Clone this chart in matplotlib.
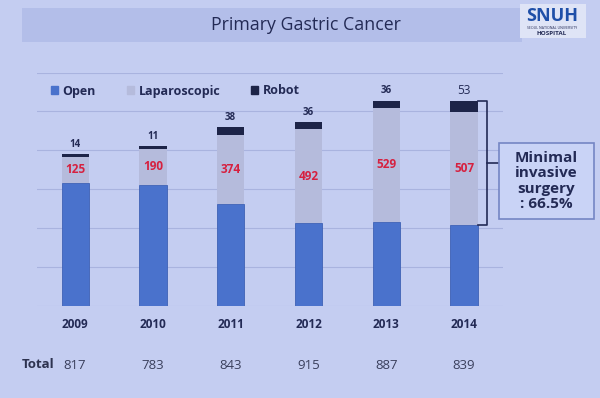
import numpy as np
import matplotlib.pyplot as plt
from matplotlib.patches import Rectangle, Patch

years = ['2009', '2010', '2011', '2012', '2013', '2014']
# segment heights as drawn on the slide (cases)
open_cases = [634, 624, 526, 427, 433, 416]
lap_cases = [131, 185, 353, 482, 585, 583]
robot_cases = [15, 14, 40, 38, 38, 55]
# numbers printed on the slide
lap_labels = ['125', '190', '374', '492', '529', '507']
robot_labels = ['14', '11', '38', '36', '36', '53']
totals = ['817', '783', '843', '915', '887', '839']

c_open = '#4a72cc'
c_lap = '#b5bbdc'
c_robot = '#1d2448'
navy = '#232a55'
bg = '#c4cdf1'

plt.rcParams['font.family'] = ['Open Sans', 'DejaVu Sans']

W, H = 600, 398
fig = plt.figure(figsize=(6, 3.98), dpi=100)
fig.patch.set_facecolor(bg)

def fx(px):
    return px / W

def fy(py):
    return 1 - py / H

# title banner and logo
fig.patches.append(Rectangle((fx(22), fy(42)), fx(500), 34 / H, transform=fig.transFigure,
                             facecolor='#b3bee9', edgecolor='none', zorder=0))
fig.text(fx(306), fy(25), 'Primary Gastric Cancer', ha='center', va='center',
         fontsize=12.8, color=navy)
fig.patches.append(Rectangle((fx(520), fy(38)), fx(66), 34 / H, transform=fig.transFigure,
                             facecolor='#dfe4f6', edgecolor='none', zorder=1))
fig.text(fx(552), fy(16), 'SNUH', ha='center', va='center', fontsize=13,
         fontweight='bold', color='#1f4fa8', zorder=2)
fig.text(fx(552), fy(28), 'SEOUL NATIONAL UNIVERSITY', ha='center', va='center',
         fontsize=2.5, color=navy, zorder=2)
fig.text(fx(552), fy(33.5), 'HOSPITAL', ha='center', va='center', fontsize=4.5,
         fontweight='bold', color=navy, zorder=2)

# chart area
ax = fig.add_axes([fx(37), fy(306), fx(466), (306 - 72.6) / H])
ax.set_facecolor('none')
x = np.arange(len(years))
bw = 0.35
ax.bar(x, open_cases, bw, color=c_open, edgecolor='#3f62b5', linewidth=0.6, zorder=3)
ax.bar(x, lap_cases, bw, bottom=open_cases, color=c_lap, edgecolor='none', zorder=3)
bot2 = np.array(open_cases) + np.array(lap_cases)
ax.bar(x, robot_cases, bw, bottom=bot2, color=c_robot, edgecolor='none', zorder=3)

for i in range(len(years)):
    ax.text(x[i], open_cases[i] + lap_cases[i] / 2, lap_labels[i], ha='center', va='center',
            fontsize=8.5, fontweight='bold', color='#d6203f', zorder=4)
    fs = 8.5 if i == 5 else 7
    ax.annotate(robot_labels[i], (x[i], bot2[i] + robot_cases[i]), xytext=(0, 3),
                textcoords='offset points', ha='center', va='bottom', fontsize=fs,
                fontweight='bold' if i < 5 else 'normal', color=navy)

ax.set_xlim(-0.49, 5.5)
ax.set_ylim(0, 1200)
ax.set_yticks(range(0, 1201, 200))
ax.grid(axis='y', color='#a9b3df', linewidth=0.8, zorder=0)
ax.tick_params(left=False, bottom=False, labelleft=False, labelbottom=False)
for s in ax.spines.values():
    s.set_visible(False)

for i, yr in enumerate(years):
    ax.annotate(yr, (x[i], 0), xytext=(0, -13), textcoords='offset points', ha='center',
                va='center', fontsize=8.5, fontweight='bold', color=navy)
    # totals row sits under each bar
    ax.annotate(totals[i], (x[i], 0), xytext=(0, -43), textcoords='offset points',
                ha='center', va='center', fontsize=9.5, color='#3a3f5c')

# legend
handles = [Patch(color=c_open), Patch(color=c_lap), Patch(color=c_robot)]
fig.legend(handles, ['Open', 'Laparoscopic', 'Robot'], loc='center left',
           bbox_to_anchor=(fx(40), fy(91)), ncol=3, frameon=False,
           handlelength=0.55, handleheight=0.55, handletextpad=0.35, columnspacing=2.5,
           labelcolor=navy, prop={'weight': 'bold', 'size': 9})

# bracket and callout
top = bot2[5] + robot_cases[5]
ax.plot([5 + bw / 2, 5.3, 5.3, 5 + bw / 2], [top, top, open_cases[5], open_cases[5]],
        color=navy, linewidth=1.2, clip_on=False, zorder=4)
mid = (top + open_cases[5]) / 2
ax.plot([5.3, 5.44], [mid, mid], color=navy, linewidth=1.2, clip_on=False)
fig.patches.append(Rectangle((fx(499), fy(219)), fx(95), 76 / H, transform=fig.transFigure,
                             facecolor='#c9d3f6', edgecolor='#7485c4', linewidth=1.2))
fig.text(fx(546.5), fy(181), 'Minimal\ninvasive\nsurgery\n: 66.5%', ha='center', va='center',
         fontsize=11, fontweight='bold', color=navy, linespacing=1.12)

fig.text(fx(38), fy(365), 'Total', ha='center', va='center', fontsize=9.5,
         fontweight='bold', color='#2e3350')

fig.savefig('out.png', dpi=100, facecolor=bg)
